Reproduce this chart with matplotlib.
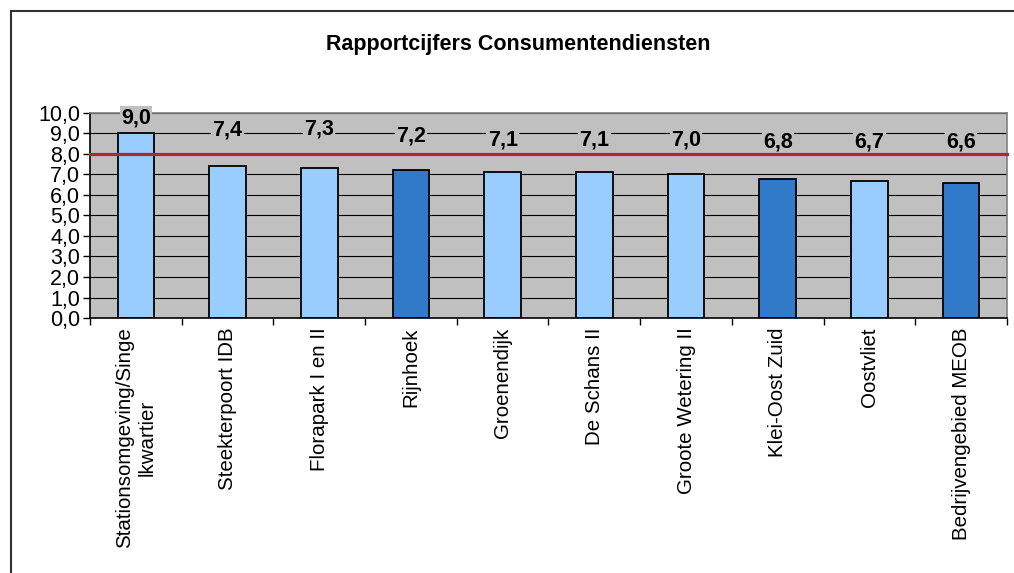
import matplotlib as mpl
mpl.use("Agg")
from matplotlib import pyplot as plt
from matplotlib.lines import Line2D
import numpy as np

## Data
categories = ["Stationsomgeving/Singe\nlkwartier", "Steekterpoort IDB", "Florapark I en II",
              "Rijnhoek", "Groenendijk", "De Schans II", "Groote Wetering II",
              "Klei-Oost Zuid", "Oostvliet", "Bedrijvengebied MEOB"]
scores = [9.0, 7.4, 7.3, 7.2, 7.1, 7.1, 7.0, 6.8, 6.7, 6.6]
dark = [False, False, False, True, False, False, False, True, False, True]
norm = 8.0

## Layout of the value labels (data units, as Excel placed them)
label_y = [9.76, 9.15, 9.2, 8.88, 8.7, 8.7, 8.66, 8.6, 8.6, 8.6]

mpl.rcParams.update({
    "font.family": ["Liberation Sans", "DejaVu Sans"],
    "font.size": 14,
})

fig = plt.figure(figsize=(10.14, 5.73), dpi=100)
ax = fig.add_axes([0.0888, 0.445, 0.9042, 0.358])

light_col, dark_col = "#99CCFF", "#3179C9"
cols = [dark_col if d else light_col for d in dark]
x = np.arange(len(scores))

ax.set_facecolor("#C0C0C0")
for v in range(1, 11):
    ax.axhline(v, color="black", lw=0.8, zorder=1)
ax.bar(x, scores, width=0.4, color=cols, edgecolor="black", linewidth=1.3, zorder=2)
# norm line drawn on top of the value labels
ax.axhline(norm, color="#B02828", lw=2.3, zorder=5, clip_on=False)

for xi, s, ly in zip(x, scores, label_y):
    ax.text(xi, ly, ("%.1f" % s).replace(".", ","), ha="center", va="center",
            fontsize=15.5, fontweight="bold", zorder=4, clip_on=False,
            bbox=dict(facecolor="#C0C0C0", edgecolor="none", pad=1.0))

ax.set_xlim(-0.5, len(scores) - 0.5)
ax.set_ylim(0, 10)
ax.set_yticks(np.arange(0, 11, 1))
ax.set_yticklabels([("%.1f" % v).replace(".", ",") for v in range(0, 11)], fontsize=15.5)
ax.yaxis.set_tick_params(length=5, width=1, pad=2, direction="out")

# ticks between categories, labels at centres
ax.set_xticks(np.arange(-0.5, len(scores), 1))
ax.set_xticklabels([])
ax.xaxis.set_tick_params(length=5, width=1, direction="out")
for xi, c in zip(x, categories):
    ax.annotate(c, xy=(xi, 0), xycoords="data", xytext=(0, -7), textcoords="offset points",
                rotation=90, ha="center", va="top", multialignment="center",
                fontsize=14.8, annotation_clip=False)

for side in ("top", "right"):
    ax.spines[side].set_color("#808080")
    ax.spines[side].set_linewidth(1.2)
for side in ("left", "bottom"):
    ax.spines[side].set_color("black")
    ax.spines[side].set_linewidth(1.2)

fig.text(0.511, 0.923, "Rapportcijfers Consumentendiensten", ha="center", va="center",
         fontsize=15.5, fontweight="bold")

# outer chart frame (only top and left visible)
fig.add_artist(Line2D([0.0104, 0.0104], [0.0, 0.981], transform=fig.transFigure,
                      color="#303030", lw=1.5))
fig.add_artist(Line2D([0.0104, 1.0], [0.981, 0.981], transform=fig.transFigure,
                      color="#303030", lw=1.5))

fig.savefig("out.png", dpi=100)
